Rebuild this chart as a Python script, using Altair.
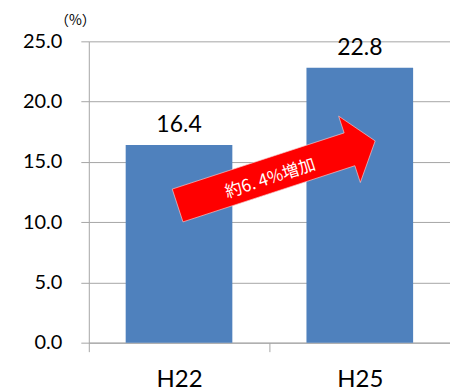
import altair as alt
import pandas as pd

categories = ["H22", "H25"]
values = [16.4, 22.8]
value_labels = ["16.4", "22.8"]

arrow_text = ["約6. 4%増加"]
arrow_value = [14.06]   # vertical centre of arrow in data units
text_value = [13.6]

df = pd.DataFrame({"cat": categories, "val": values, "lab": value_labels})
arrow_df = pd.DataFrame({"v": arrow_value})
text_df = pd.DataFrame({"t": arrow_text, "v": text_value})

NUM_FONT = "Lato"
CJK_FONT = "Noto Sans CJK JP"
GRAY = "#A6A6A6"

x_enc = alt.X(
    "cat:N",
    sort=categories,
    scale=alt.Scale(paddingInner=0.41, paddingOuter=0.204),
    axis=alt.Axis(
        title=None, labelAngle=0, labelFont=NUM_FONT, labelFontSize=24,
        labelColor="#000000", labelBaseline="alphabetic", labelPadding=35,
        tickSize=9, tickColor=GRAY, domainColor=GRAY,
        tickOffset=-90.75, labelOffset=90.75, grid=False,
    ),
)
y_scale = alt.Scale(domain=[0, 25], nice=False)
y_enc = alt.Y(
    "val:Q",
    scale=y_scale,
    axis=alt.Axis(
        values=[0, 5, 10, 15, 20, 25], format=".1f",
        title="（%）", titleAngle=0, titleFont=CJK_FONT, titleFontSize=14,
        titleFontWeight="normal", titleX=-14, titleY=-21, titleAlign="center",
        titleBaseline="middle", titleColor="#000000",
        labelFont=NUM_FONT, labelFontSize=20, labelColor="#000000",
        labelPadding=19, tickSize=8, tickColor=GRAY, domainColor=GRAY,
        grid=True, gridColor=GRAY,
    ),
)

bars = alt.Chart(df).mark_bar(color="#4F81BD").encode(x=x_enc, y=y_enc)

labels = alt.Chart(df).mark_text(
    font=NUM_FONT, fontSize=23, baseline="alphabetic", dy=-13, color="#000000"
).encode(x=alt.X("cat:N", sort=categories), y=alt.Y("val:Q"), text="lab:N")

arrow_path = "M -1 -0.166 L 0.74 -0.166 L 0.74 -0.336 L 1 0 L 0.74 0.336 L 0.74 0.166 L -1 0.166 Z"
arrow = alt.Chart(arrow_df).mark_point(
    shape=arrow_path, size=43400, angle=341.9, filled=True,
    fill="#FF0000", opacity=1, stroke="#F4D0D0", strokeWidth=0.6,
).encode(x=alt.value(188), y=alt.Y("v:Q", scale=y_scale))

arrow_label = alt.Chart(text_df).mark_text(
    font=CJK_FONT, fontSize=17, color="#FFFFFF", angle=342,
    align="center", baseline="middle",
).encode(x=alt.value(182), y=alt.Y("v:Q", scale=y_scale), text="t:N")

chart = (
    alt.layer(bars, labels, arrow, arrow_label)
    .properties(
        width=362, height=302,
        padding={"left": 89, "top": 41, "right": 0, "bottom": 46},
        autosize="none", background="#FFFFFF",
    )
    .configure_view(stroke=None)
)

chart.save("out.html", embed_options={"renderer": "svg", "actions": False})
